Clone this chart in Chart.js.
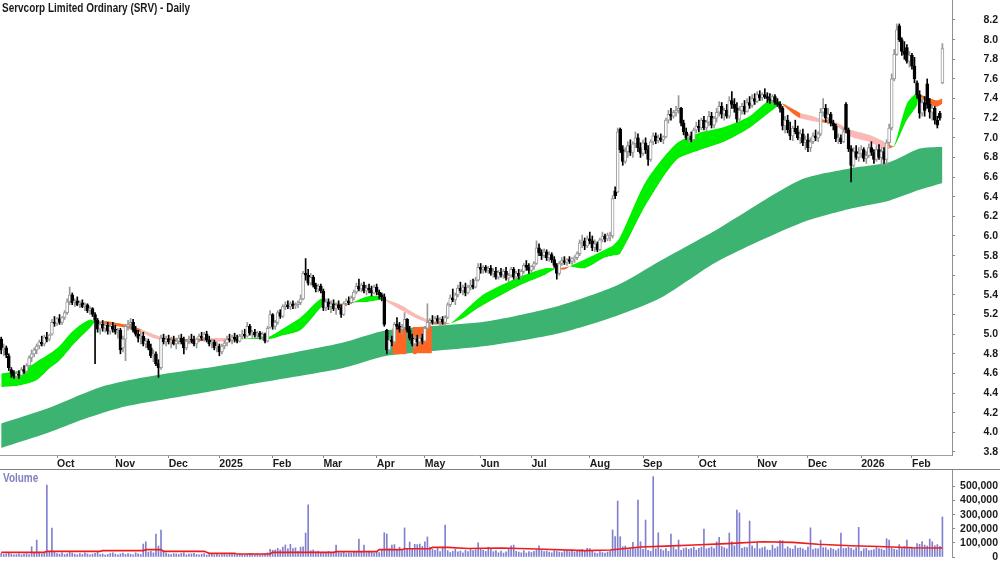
<!DOCTYPE html>
<html>
<head>
<meta charset="utf-8">
<script src="https://cdn.jsdelivr.net/npm/chart.js"></script>
<style>
  body { margin: 0; background: #fff; width: 1000px; height: 562px; overflow: hidden; position: relative; font-family: "Liberation Sans", Arial, sans-serif; }
  #title { position: absolute; left: 2px; top: 2px; font-weight: bold; font-size: 12px; line-height: 12px; color: #1a1a1a; white-space: nowrap; transform: scaleX(0.83); transform-origin: 0 0; }
  #volLabel { position: absolute; left: 3px; top: 472px; font-weight: bold; font-size: 12px; line-height: 12px; color: #8080c0; transform: scaleX(0.83); transform-origin: 0 0; }
  #priceBox { position: absolute; left: 0; top: 0; width: 1000px; height: 470px; }
  #volBox { position: absolute; left: 0; top: 470px; width: 1000px; height: 92px; }
  #sep { position: absolute; left: 0; top: 469px; width: 1000px; height: 1px; background: #808080; }
</style>
</head>
<body>
<div id="priceBox"><canvas id="priceChart" width="1000" height="470"></canvas></div>
<div id="volBox"><canvas id="volChart" width="1000" height="92"></canvas></div>
<div id="sep"></div>
<div id="title">Servcorp Limited Ordinary (SRV) - Daily</div>
<div id="volLabel">Volume</div>
<script>
// month ticks: trading-day index of first session in each month
const monthIdx = [22,45,66,86,107,127,148,167,189,209,232,253,275,298,318,339,359];
const monthLabels = ['Oct','Nov','Dec','2025','Feb','Mar','Apr','May','Jun','Jul','Aug','Sep','Oct','Nov','Dec','2026','Feb'];
const priceTicks = [3.8,4.0,4.2,4.4,4.6,4.8,5.0,5.2,5.4,5.6,5.8,6.0,6.2,6.4,6.6,6.8,7.0,7.2,7.4,7.6,7.8,8.0,8.2];
const volTicks = [0,100,200,300,400,500]; // thousands

const opens = [
4.95,4.84,4.86,4.78,4.64,4.60,4.57,4.59,4.58,4.64,
4.62,4.68,4.76,4.80,4.84,4.88,4.92,4.90,4.97,4.95,
5.00,5.12,5.11,5.16,5.12,5.17,5.22,5.33,5.40,5.32,
5.34,5.30,5.32,5.28,5.30,5.24,5.26,5.20,5.14,5.05,
5.10,5.06,5.09,5.03,5.08,5.05,5.02,5.04,4.86,4.95,
5.08,5.10,5.12,5.04,5.00,4.96,4.98,4.90,4.93,4.86,
4.78,4.80,4.70,4.66,4.96,4.92,4.95,4.92,4.94,4.90,
4.93,4.96,4.92,4.86,4.93,4.95,4.94,4.90,4.95,4.98,
4.96,5.00,4.94,4.90,4.92,4.86,4.88,4.82,4.88,4.91,
4.95,4.94,4.97,4.95,4.93,4.98,5.00,4.98,5.08,5.01,
5.02,4.99,5.01,4.97,5.00,4.93,5.07,5.20,5.08,5.12,
5.22,5.18,5.28,5.30,5.28,5.31,5.29,5.30,5.32,5.36,
5.62,5.60,5.52,5.58,5.50,5.46,5.49,5.44,5.27,5.33,
5.28,5.31,5.26,5.30,5.27,5.20,5.31,5.34,5.32,5.37,
5.43,5.49,5.46,5.50,5.44,5.47,5.45,5.42,5.48,5.43,
5.40,5.38,5.04,4.84,4.94,4.92,5.10,5.08,5.05,5.07,
5.15,5.04,4.96,4.90,4.95,4.92,4.96,4.93,5.06,5.12,
5.14,5.12,5.16,5.13,5.15,5.12,5.17,5.30,5.37,5.35,
5.40,5.47,5.44,5.48,5.42,5.48,5.50,5.48,5.55,5.68,
5.66,5.68,5.65,5.67,5.62,5.64,5.58,5.63,5.60,5.64,
5.57,5.60,5.66,5.58,5.62,5.59,5.64,5.70,5.68,5.65,
5.69,5.72,5.88,5.83,5.80,5.84,5.78,5.81,5.76,5.70,
5.62,5.72,5.75,5.73,5.76,5.74,5.77,5.78,5.82,5.93,
5.95,5.90,5.97,5.95,5.88,5.92,5.86,5.96,6.00,5.97,
5.99,6.00,6.46,6.45,7.09,6.88,6.76,6.86,6.92,6.85,
6.94,7.00,6.90,6.84,6.95,6.88,6.78,6.96,7.02,6.97,
7.00,6.98,7.01,7.18,7.24,7.22,7.26,7.28,7.30,7.15,
7.06,7.00,7.02,6.98,7.08,7.12,7.10,7.18,7.10,7.16,
7.22,7.13,7.20,7.26,7.32,7.24,7.28,7.22,7.38,7.34,
7.30,7.19,7.28,7.32,7.27,7.36,7.33,7.40,7.37,7.44,
7.41,7.44,7.42,7.40,7.38,7.42,7.36,7.34,7.30,7.12,
7.18,7.08,7.02,7.10,7.06,7.00,7.04,6.95,6.98,6.90,
6.96,7.02,7.00,7.04,7.26,7.30,7.20,7.24,7.15,7.12,
6.99,7.00,6.96,7.34,7.08,6.89,6.72,6.86,6.80,6.84,
6.88,6.79,6.82,6.90,6.85,6.78,6.88,6.80,6.86,6.78,
6.95,7.10,7.60,7.85,8.14,8.00,7.88,7.92,7.78,7.84,
7.73,7.56,7.44,7.25,7.36,7.55,7.34,7.26,7.30,7.18,
7.25,7.56];

const highs = [
4.97,4.90,4.88,4.80,4.66,4.63,4.62,4.63,4.66,4.68,
4.70,4.78,4.84,4.86,4.90,4.94,4.98,4.99,5.02,5.00,
5.15,5.18,5.17,5.20,5.18,5.24,5.36,5.48,5.42,5.36,
5.38,5.34,5.35,5.32,5.31,5.28,5.27,5.22,5.16,5.12,
5.14,5.12,5.12,5.10,5.12,5.09,5.06,5.06,4.98,5.10,
5.14,5.16,5.15,5.08,5.04,5.02,5.02,4.96,4.95,4.90,
4.84,4.82,4.74,4.99,5.00,4.98,4.99,4.97,4.98,4.96,
4.99,5.00,4.97,4.95,4.98,5.00,4.98,4.96,5.00,5.02,
5.02,5.03,4.98,4.95,4.94,4.92,4.90,4.90,4.94,4.98,
5.00,4.99,5.01,4.99,5.00,5.04,5.05,5.12,5.10,5.04,
5.05,5.03,5.03,5.02,5.01,5.08,5.24,5.21,5.14,5.24,
5.25,5.30,5.33,5.34,5.33,5.34,5.32,5.34,5.40,5.64,
5.77,5.66,5.62,5.60,5.52,5.51,5.51,5.46,5.36,5.36,
5.34,5.35,5.32,5.34,5.30,5.33,5.36,5.38,5.39,5.45,
5.52,5.56,5.52,5.53,5.50,5.51,5.49,5.50,5.51,5.45,
5.42,5.41,5.05,4.96,4.98,5.12,5.17,5.12,5.10,5.22,
5.16,5.08,5.00,4.98,4.99,4.98,5.00,5.08,5.31,5.16,
5.19,5.18,5.19,5.17,5.18,5.19,5.32,5.40,5.46,5.42,
5.50,5.53,5.50,5.52,5.50,5.55,5.56,5.58,5.72,5.72,
5.70,5.70,5.69,5.70,5.67,5.68,5.65,5.67,5.66,5.68,
5.62,5.68,5.68,5.64,5.66,5.66,5.72,5.75,5.72,5.70,
5.74,5.95,5.92,5.86,5.87,5.86,5.84,5.83,5.79,5.72,
5.74,5.78,5.79,5.77,5.79,5.78,5.80,5.84,5.96,6.01,
5.98,6.00,6.04,6.00,5.96,5.94,5.98,6.04,6.02,6.03,
6.04,6.41,6.50,7.10,7.10,6.92,6.90,6.96,6.98,6.96,
7.06,7.04,6.95,6.98,7.00,6.92,6.98,7.05,7.05,7.03,
7.04,7.02,7.20,7.28,7.30,7.28,7.32,7.43,7.31,7.18,
7.10,7.04,7.06,7.10,7.16,7.18,7.20,7.22,7.18,7.27,
7.26,7.22,7.30,7.37,7.36,7.30,7.34,7.42,7.47,7.40,
7.36,7.32,7.35,7.38,7.40,7.42,7.44,7.45,7.47,7.48,
7.46,7.50,7.46,7.45,7.44,7.44,7.40,7.37,7.32,7.22,
7.23,7.16,7.12,7.18,7.12,7.08,7.09,7.02,7.04,7.00,
7.05,7.08,7.06,7.30,7.40,7.34,7.30,7.26,7.18,7.14,
7.04,7.03,7.10,7.36,7.10,6.92,6.90,6.92,6.90,6.92,
6.90,6.86,6.94,6.96,6.88,6.92,6.93,6.90,6.90,6.98,
7.14,7.65,7.90,8.16,8.16,8.02,7.98,7.95,7.88,7.86,
7.82,7.58,7.48,7.40,7.42,7.60,7.40,7.34,7.32,7.22,
7.27,7.96];

const lows = [
4.80,4.78,4.76,4.63,4.56,4.55,4.54,4.55,4.57,4.60,
4.60,4.66,4.72,4.77,4.80,4.85,4.88,4.88,4.92,4.93,
4.99,5.08,5.09,5.10,5.10,5.15,5.20,5.30,5.30,5.28,
5.29,5.27,5.27,5.24,5.22,5.20,5.18,4.70,5.02,5.00,
5.03,5.02,5.00,5.00,5.02,5.00,4.96,4.80,4.82,4.73,
5.04,5.05,5.02,4.98,4.92,4.90,4.88,4.86,4.84,4.76,
4.72,4.68,4.56,4.64,4.90,4.88,4.90,4.86,4.89,4.85,
4.90,4.90,4.80,4.84,4.90,4.91,4.88,4.86,4.92,4.94,
4.93,4.92,4.88,4.86,4.84,4.82,4.78,4.80,4.85,4.88,
4.92,4.90,4.92,4.91,4.92,4.95,4.96,4.97,4.99,4.96,
4.97,4.96,4.95,4.94,4.91,4.92,5.06,5.05,5.05,5.10,
5.16,5.17,5.25,5.26,5.25,5.26,5.26,5.27,5.30,5.35,
5.55,5.50,5.50,5.48,5.43,5.43,5.42,5.24,5.24,5.25,
5.22,5.24,5.20,5.25,5.17,5.19,5.29,5.30,5.31,5.35,
5.41,5.44,5.43,5.42,5.40,5.42,5.39,5.41,5.40,5.36,
5.34,5.08,4.80,4.82,4.88,4.90,5.05,5.02,5.00,5.05,
5.02,4.94,4.88,4.86,4.88,4.89,4.90,4.92,5.04,5.08,
5.10,5.10,5.11,5.09,5.10,5.10,5.16,5.28,5.33,5.30,
5.38,5.42,5.40,5.39,5.41,5.45,5.46,5.47,5.54,5.62,
5.62,5.63,5.62,5.60,5.58,5.56,5.56,5.58,5.57,5.55,
5.53,5.58,5.56,5.55,5.56,5.57,5.62,5.65,5.62,5.63,
5.66,5.71,5.80,5.76,5.78,5.75,5.74,5.73,5.68,5.56,
5.60,5.70,5.71,5.70,5.72,5.71,5.73,5.76,5.80,5.88,
5.86,5.88,5.92,5.85,5.84,5.84,5.85,5.94,5.94,5.95,
5.95,5.98,6.38,6.44,6.85,6.72,6.74,6.80,6.82,6.80,
6.90,6.86,6.80,6.82,6.84,6.72,6.76,6.93,6.94,6.95,
6.96,6.94,7.00,7.15,7.18,7.20,7.22,7.25,7.12,7.03,
6.98,6.95,6.96,6.97,7.05,7.06,7.08,7.08,7.06,7.12,
7.10,7.10,7.16,7.22,7.20,7.18,7.20,7.20,7.30,7.26,
7.16,7.17,7.24,7.24,7.26,7.30,7.31,7.34,7.36,7.38,
7.38,7.40,7.36,7.35,7.33,7.34,7.32,7.26,7.08,7.05,
7.05,6.98,6.97,7.04,6.98,6.94,6.92,6.88,6.86,6.86,
6.94,6.97,6.96,7.02,7.22,7.16,7.14,7.12,7.08,6.96,
6.94,6.94,6.95,7.05,6.86,6.55,6.70,6.78,6.76,6.80,
6.76,6.74,6.80,6.82,6.74,6.76,6.78,6.72,6.74,6.72,
6.92,7.08,7.58,7.84,7.98,7.84,7.80,7.76,7.72,7.70,
7.56,7.40,7.20,7.22,7.22,7.30,7.20,7.18,7.14,7.10,
7.18,7.55];

const closes = [
4.84,4.86,4.79,4.66,4.60,4.57,4.60,4.58,4.64,4.62,
4.68,4.76,4.80,4.84,4.88,4.92,4.90,4.97,4.95,4.99,
5.12,5.11,5.16,5.12,5.17,5.22,5.33,5.40,5.32,5.34,
5.30,5.32,5.28,5.30,5.24,5.26,5.20,5.14,5.05,5.10,
5.06,5.09,5.03,5.08,5.05,5.02,5.04,4.84,4.95,5.08,
5.10,5.12,5.04,5.00,4.96,4.98,4.90,4.93,4.86,4.78,
4.80,4.70,4.66,4.96,4.92,4.95,4.92,4.94,4.90,4.93,
4.96,4.92,4.86,4.93,4.95,4.94,4.90,4.95,4.98,4.96,
5.00,4.94,4.90,4.92,4.86,4.88,4.82,4.88,4.91,4.95,
4.94,4.97,4.95,4.93,4.98,5.00,4.98,5.08,5.01,5.02,
4.99,5.01,4.97,5.00,4.93,5.06,5.20,5.08,5.12,5.22,
5.18,5.28,5.30,5.28,5.31,5.29,5.30,5.32,5.36,5.62,
5.60,5.52,5.58,5.50,5.46,5.49,5.44,5.27,5.33,5.28,
5.31,5.26,5.30,5.27,5.20,5.31,5.34,5.32,5.37,5.43,
5.49,5.46,5.50,5.44,5.47,5.45,5.42,5.48,5.43,5.40,
5.38,5.10,4.84,4.94,4.92,5.10,5.08,5.05,5.07,5.15,
5.04,4.96,4.90,4.95,4.92,4.96,4.93,5.06,5.12,5.14,
5.12,5.16,5.13,5.15,5.12,5.17,5.30,5.37,5.35,5.40,
5.47,5.44,5.48,5.42,5.48,5.50,5.48,5.55,5.68,5.66,
5.68,5.65,5.67,5.62,5.64,5.58,5.63,5.60,5.64,5.57,
5.60,5.66,5.58,5.62,5.59,5.64,5.70,5.68,5.65,5.69,
5.72,5.88,5.83,5.80,5.84,5.78,5.81,5.76,5.70,5.62,
5.72,5.75,5.73,5.76,5.74,5.77,5.78,5.82,5.93,5.95,
5.90,5.97,5.95,5.88,5.92,5.86,5.96,6.00,5.97,6.01,
6.00,6.38,6.41,7.06,6.88,6.76,6.86,6.92,6.85,6.94,
7.00,6.90,6.84,6.95,6.88,6.78,6.96,7.02,6.97,7.00,
6.98,7.01,7.18,7.24,7.22,7.26,7.28,7.30,7.15,7.06,
7.00,7.02,6.98,7.08,7.12,7.10,7.18,7.10,7.16,7.22,
7.13,7.20,7.26,7.32,7.24,7.28,7.22,7.38,7.34,7.30,
7.19,7.28,7.32,7.27,7.36,7.33,7.40,7.37,7.44,7.41,
7.44,7.42,7.40,7.38,7.42,7.36,7.34,7.30,7.12,7.18,
7.08,7.02,7.10,7.06,7.00,7.04,6.95,6.98,6.90,6.96,
7.02,7.00,7.04,7.26,7.30,7.20,7.24,7.15,7.12,6.99,
7.00,6.96,7.06,7.08,6.89,6.72,6.86,6.80,6.84,6.88,
6.79,6.82,6.90,6.85,6.78,6.88,6.80,6.86,6.78,6.95,
7.10,7.60,7.85,8.10,8.00,7.88,7.85,7.78,7.84,7.73,
7.60,7.44,7.25,7.36,7.28,7.34,7.26,7.30,7.18,7.13,
7.20,7.91];

// daily volume, thousands of shares
const volumesK = [
25,18,22,30,20,15,18,22,16,20,
24,18,73,30,120,35,22,28,510,40,
205,38,25,20,30,18,22,35,28,20,
16,24,18,30,22,15,20,26,34,18,
22,14,18,25,30,20,16,22,28,18,
24,20,16,30,22,18,92,108,35,40,
30,163,78,191,45,28,20,18,24,22,
18,25,30,16,20,22,26,18,15,20,
24,14,18,22,16,20,15,18,22,16,
20,18,24,14,22,18,16,20,26,24,
18,22,16,20,24,30,55,48,50,62,
50,70,85,58,90,60,65,40,70,72,
170,370,45,50,38,42,30,35,28,40,
32,26,85,30,28,35,24,30,28,36,
40,127,34,85,30,42,36,28,40,32,
48,172,163,60,85,88,55,70,45,206,
62,106,58,90,88,92,75,108,142,70,
55,48,60,38,70,227,45,32,40,55,
36,42,30,48,38,56,45,52,100,62,
48,40,70,55,38,45,30,42,28,36,
55,80,85,40,35,30,45,28,38,32,
40,50,80,46,38,42,35,30,45,40,
35,32,40,45,38,50,35,42,50,55,
40,62,60,45,30,25,38,32,28,35,
40,192,144,397,144,73,78,52,60,104,
60,404,108,55,262,48,40,570,58,172,
55,45,60,40,163,70,52,120,48,60,
65,55,60,70,48,62,70,198,58,64,
72,60,108,140,75,66,58,170,108,80,
333,313,62,70,66,255,80,60,106,58,
66,72,50,48,85,60,72,116,116,58,
72,60,55,80,62,66,58,48,70,207,
52,60,58,120,66,66,50,62,55,46,
58,170,60,62,70,62,50,66,210,40,
58,62,45,48,52,70,60,56,48,130,
120,62,55,50,88,66,75,120,60,70,
66,96,90,110,85,78,127,108,80,88,
75,284];

// volume moving average, read at selected sessions (thousands)
const volMaDays = [0,17,18,39,40,56,57,63,64,80,82,92,93,106,107,131,132,148,149,158,159,169,170,176,184,197,211,230,240,252,262,273,286,300,312,322,335,346,359,371];
const volMaK    = [33,33,40,40,45,45,52,52,40,40,26,26,21,21,33,33,38,38,52,52,59,59,68,68,60,64,57,45,50,71,77,85,95,108,104,90,80,74,66,64];

// short-term average ribbon (fast / slow) read at selected sessions
const shortDays = [0,8,14,19,23,27,31,35,37,42,50,55,60,65,72,80,85,89,94,100,106,110,118,126,128,131,137,139,145,150,152,158,163,168,173,177,182,187,191,204,214,219,222,224,230,238,241,244,254,266,275,285,295,303,306,308,313,315,320,323,328,335,342,348,350,352,357,361,362,366,369,371];
const shortFast = [4.60,4.63,4.72,4.80,4.88,5.00,5.09,5.15,5.13,5.10,5.06,5.02,4.96,4.93,4.92,4.93,4.92,4.93,4.95,4.96,4.98,5.04,5.17,5.36,5.32,5.29,5.30,5.33,5.39,5.38,5.33,5.24,5.17,5.12,5.10,5.11,5.22,5.34,5.42,5.58,5.67,5.67,5.66,5.69,5.76,5.86,5.90,5.99,6.55,6.94,7.05,7.11,7.22,7.39,7.38,7.34,7.23,7.20,7.17,7.16,7.14,7.01,6.96,6.89,6.89,6.92,7.35,7.46,7.43,7.34,7.32,7.35];
const shortSlow = [4.46,4.48,4.53,4.65,4.73,4.85,4.96,5.06,5.12,5.13,5.09,5.05,5.00,4.96,4.95,4.95,4.96,4.96,4.95,4.95,4.95,4.98,5.04,5.27,5.31,5.31,5.31,5.32,5.33,5.35,5.35,5.29,5.21,5.15,5.12,5.11,5.16,5.25,5.31,5.49,5.60,5.67,5.68,5.69,5.67,5.78,5.80,5.82,6.31,6.77,6.87,6.96,7.10,7.26,7.32,7.35,7.28,7.25,7.22,7.19,7.17,7.08,7.03,6.96,6.93,6.91,7.18,7.33,7.44,7.40,7.38,7.40];
// sessions where the falling ribbon shows orange rather than pink
const shortOrangeSpans = [[37,55],[65,80],[89,94],[128,139],[168,177],[219,224],[308,315],[323,328],[350,352],[362,371]];

// long-term average band (top / bottom)
const longDays = [0,19,31,39,50,63,79,96,134,152,191,220,243,260,283,315,335,350,362,371];
const longTop  = [4.09,4.25,4.38,4.46,4.53,4.59,4.65,4.72,4.91,5.04,5.13,5.29,5.50,5.75,6.08,6.57,6.69,6.75,6.89,6.91];
const longBot  = [3.84,4.00,4.12,4.19,4.27,4.33,4.40,4.48,4.65,4.78,4.88,5.01,5.19,5.37,5.75,6.13,6.28,6.36,6.47,6.54];
// sessions where the long band is drawn orange
const longOrangeDays = [155,156,157,158,159,163,164,165,166,167,168,169];
const longOrangeTop  = [5.06,5.06,5.06,5.06,5.06,5.07,5.07,5.07,5.07,5.07,5.08,5.08];
const longOrangeBot  = [4.80,4.80,4.80,4.80,4.80,4.80,4.81,4.81,4.81,4.81,4.81,4.81];

const GREEN = '#00f000', BAND = '#3cb371', ORANGE = '#ff6624', PINK = '#ffb6b6';
const UPC = '#999999';

Chart.defaults.font.family = '"Liberation Sans", Arial, sans-serif';
Chart.defaults.font.weight = 'bold';
Chart.defaults.font.size = 10.5;
Chart.defaults.color = '#1a1a1a';

const xMin = -0.47, xMax = 374.78;
const days = opens.map((_, i) => i);
const isUp = days.map(i => closes[i] >= opens[i]);

const pts = (xs, ys) => xs.map((x, k) => ({x: x, y: ys[k]}));
function spanPts(xs, ys, spans) {
  const out = [];
  spans.forEach((s, n) => {
    if (n) out.push({x: (spans[n - 1][1] + s[0]) / 2, y: null});
    xs.forEach((x, k) => { if (x >= s[0] && x <= s[1]) out.push({x: x, y: ys[k]}); });
  });
  return out;
}

const wickData = days.map(i => ({x: i, y: [lows[i], highs[i]]}));
const bodyData = days.map(i => {
  let lo = Math.min(opens[i], closes[i]), hi = Math.max(opens[i], closes[i]);
  if (hi - lo < 0.008) { const m = (hi + lo) / 2; lo = m - 0.004; hi = m + 0.004; }
  return {x: i, y: [lo, hi]};
});

// keep the plot box exactly where the tick positions were measured
const noPad = s => { s.paddingTop = 0; s.paddingBottom = 0; };

const lineBase = {type: 'line', pointRadius: 0, borderWidth: 0, borderColor: 'transparent', tension: 0.25, spanGaps: false};

new Chart(document.getElementById('priceChart'), {
  type: 'line',
  data: {
    datasets: [
      Object.assign({}, lineBase, {data: pts(longDays, longBot), fill: false, order: 6}),
      Object.assign({}, lineBase, {data: pts(longDays, longTop), fill: '-1', backgroundColor: BAND, order: 6}),
      {type: 'bar', data: longOrangeDays.map((d, k) => ({x: d, y: [longOrangeBot[k], longOrangeTop[k]]})),
        backgroundColor: ORANGE, barThickness: 3, grouped: false, order: 5},
      Object.assign({}, lineBase, {data: pts(shortDays, shortSlow), fill: false, order: 4}),
      Object.assign({}, lineBase, {data: pts(shortDays, shortFast), fill: {target: '-1', above: GREEN, below: PINK}, order: 4}),
      Object.assign({}, lineBase, {data: spanPts(shortDays, shortSlow, shortOrangeSpans), fill: false, order: 3}),
      Object.assign({}, lineBase, {data: spanPts(shortDays, shortFast, shortOrangeSpans), fill: {target: '-1', above: ORANGE, below: ORANGE}, order: 3}),
      {type: 'bar', data: wickData, backgroundColor: days.map(i => isUp[i] ? UPC : '#000'),
        barThickness: 1, grouped: false, order: 2},
      {type: 'bar', data: bodyData, backgroundColor: days.map(i => isUp[i] ? '#fff' : '#000'),
        borderColor: days.map(i => isUp[i] ? UPC : '#000'), borderWidth: 1, borderSkipped: false,
        barThickness: 3, grouped: false, order: 1}
    ]
  },
  options: {
    responsive: false, animation: false, events: [],
    layout: {padding: {left: 0, right: 2, top: 0, bottom: 0}},
    plugins: {legend: {display: false}, tooltip: {enabled: false}},
    scales: {
      x: {
        type: 'linear', min: xMin, max: xMax, offset: false, position: 'bottom',
        afterBuildTicks: s => { s.ticks = monthIdx.map(v => ({value: v})); },
        afterFit: s => { s.height = 15; s.paddingLeft = 0; s.paddingRight = 0; },
        ticks: {autoSkip: false, maxRotation: 0, align: 'start', padding: 0,
          callback: v => monthLabels[monthIdx.indexOf(v)]},
        grid: {drawOnChartArea: false, tickLength: 3, color: '#888', offset: false},
        border: {color: '#a0a0a0'}
      },
      y: {
        type: 'linear', position: 'right', min: 3.7694, max: 8.4037,
        afterBuildTicks: s => { s.ticks = priceTicks.map(v => ({value: v})); },
        afterFit: s => { s.width = 46; noPad(s); },
        ticks: {autoSkip: false, crossAlign: 'far', padding: 2, callback: v => v.toFixed(1)},
        grid: {drawOnChartArea: false, tickLength: 3, color: '#888'},
        border: {color: '#909090'}
      }
    }
  }
});

new Chart(document.getElementById('volChart'), {
  type: 'line',
  data: {
    datasets: [
      {type: 'line', data: pts(volMaDays, volMaK), borderColor: '#f01c1c', borderWidth: 1.6, pointRadius: 0, fill: false, order: 1},
      {type: 'bar', data: days.map(i => ({x: i, y: volumesK[i]})), backgroundColor: '#8080d0',
        barThickness: 1, grouped: false, order: 2}
    ]
  },
  options: {
    responsive: false, animation: false, events: [],
    layout: {padding: {left: 0, right: 2, top: 0, bottom: 5}},
    plugins: {legend: {display: false}, tooltip: {enabled: false}},
    scales: {
      x: {type: 'linear', min: xMin, max: xMax, offset: false, display: false},
      y: {
        type: 'linear', position: 'right', min: 0, max: 617,
        afterBuildTicks: s => { s.ticks = volTicks.map(v => ({value: v})); },
        afterFit: s => { s.width = 46; noPad(s); },
        ticks: {autoSkip: false, crossAlign: 'far', padding: 2, callback: v => (v * 1000).toLocaleString('en-US')},
        grid: {drawOnChartArea: false, tickLength: 3, color: '#888'},
        border: {color: '#909090'}
      }
    }
  }
});
</script>
</body>
</html>
